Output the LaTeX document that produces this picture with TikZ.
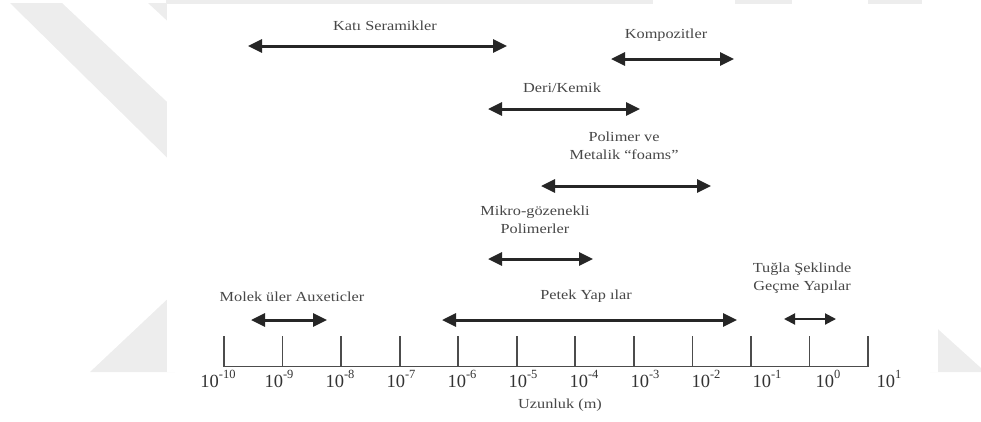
\documentclass[tikz,border=0pt]{standalone}
\usepackage{fontspec}
\setmainfont{Liberation Serif}
\newfontfamily\lblfont[FakeStretch=1.18]{Liberation Serif}
\usetikzlibrary{arrows.meta,positioning,calc}

\newcommand{\tenpow}[1]{10\raisebox{0.45em}{\fontsize{12.5}{13}\selectfont #1}}

\begin{document}
\begin{tikzpicture}[x=1pt, y=-1pt,
    lbl/.style={font=\lblfont\fontsize{13.8}{18.5}\selectfont, text=black!72,
                align=center, inner sep=0pt},
    explbl/.style={font=\fontsize{18.5}{20}\selectfont, text=black!80, inner sep=0pt, anchor=base},
    spanarrow/.style={{Triangle[length=14pt,width=13pt]}-{Triangle[length=14pt,width=13pt]},
                  line width=3pt, draw=black!85},
    smallarrow/.style={{Triangle[length=11pt,width=11pt]}-{Triangle[length=11pt,width=11pt]},
                  line width=2pt, draw=black!85},
    axisline/.style={line width=1.7pt, draw=black!70}
  ]
  \useasboundingbox (0,0) rectangle (981,421);

  % watermark behind the figure
  \fill[black!7] (10,3) -- (62,3) -- (200,133) -- (200,190) -- cycle;
  \fill[black!7] (148,3) -- (175,3) -- (175,28) -- cycle;
  \fill[black!7] (175,292) -- (175,372) -- (90,372) -- cycle;
  \fill[black!7] (166,0) rectangle (653,4);
  \fill[black!7] (735,0) rectangle (792,4);
  \fill[black!7] (868,0) rectangle (922,4);
  \fill[black!7] (930,322) -- (981,368) -- (981,372) -- (930,372) -- cycle;
  \fill[white] (167,4) rectangle (938,372);

  % ranges
  \node[lbl] (seramik) at (385,26) {Katı Seramikler};
  \coordinate (seramikA) at (248,46);
  \coordinate (seramikB) at (507,46);
  \draw[spanarrow] (seramikA) -- (seramikB);

  \node[lbl] (kompozit) at (666,35) {Kompozitler};
  \coordinate (kompozitA) at (611,59);
  \coordinate (kompozitB) at (734,59);
  \draw[spanarrow] (kompozitA) -- (kompozitB);

  \node[lbl] (deri) at (562,88) {Deri/Kemik};
  \coordinate (deriA) at (488,109);
  \coordinate (deriB) at (640,109);
  \draw[spanarrow] (deriA) -- (deriB);

  \node[lbl] (foam) at (624,146) {Polimer ve\\Metalik “foams”};
  \coordinate (foamA) at (541,186);
  \coordinate (foamB) at (711,186);
  \draw[spanarrow] (foamA) -- (foamB);

  \node[lbl] (mikro) at (535,220) {Mikro-gözenekli\\Polimerler};
  \coordinate (mikroA) at (488,259);
  \coordinate (mikroB) at (593,259);
  \draw[spanarrow] (mikroA) -- (mikroB);

  \node[lbl] (molek) at (292,297) {Molek üler Auxeticler};
  \coordinate (molekA) at (251,320);
  \coordinate (molekB) at (327,320);
  \draw[spanarrow] (molekA) -- (molekB);

  \node[lbl] (petek) at (586,296) {Petek Yap ılar};
  \coordinate (petekA) at (442,320);
  \coordinate (petekB) at (737,320);
  \draw[spanarrow] (petekA) -- (petekB);

  \node[lbl] (tugla) at (802,278) {Tuğla Şeklinde\\Geçme Yapılar};
  \coordinate (tuglaA) at (784,319);
  \coordinate (tuglaB) at (836,319);
  \draw[smallarrow] (tuglaA) -- (tuglaB);

  % length axis
  \coordinate (axA) at (224,366.5);
  \coordinate (axB) at (868,366.5);
  \draw[axisline] (axA) -- (axB);
  \foreach \i in {0,...,11}
    \draw[axisline] ($(axA)+(58.55*\i,0)$) -- ++(0,-30.5);
  \foreach \e [count=\i from 0] in {-10,-9,-8,-7,-6,-5,-4,-3,-2,-1,0,1}
    \node[explbl] (exp\i) at (218+61*\i,387) {\tenpow{\e}};
  \node[lbl] (uzunluk) at (560,405) {Uzunluk (m)};
\end{tikzpicture}
\end{document}
